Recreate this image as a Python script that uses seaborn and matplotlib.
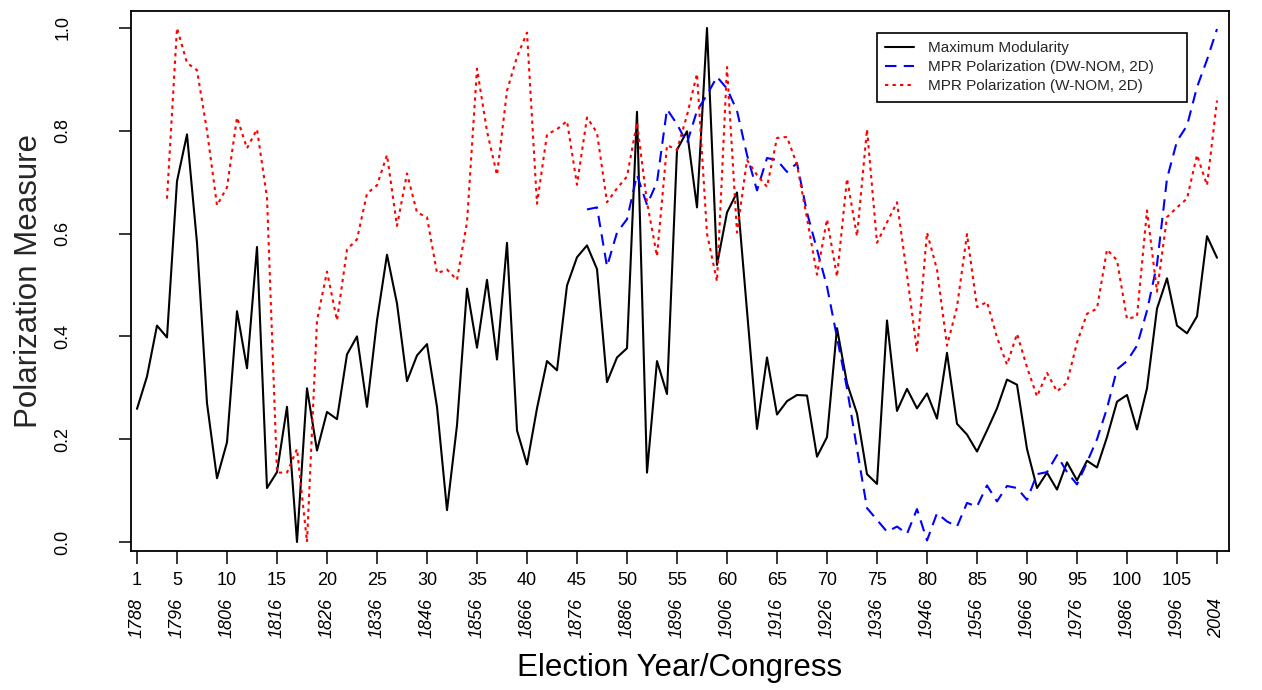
import numpy as np
import pandas as pd
import matplotlib
matplotlib.use("Agg")
import matplotlib.pyplot as plt
import matplotlib.transforms as mtransforms
import seaborn as sns

# ---------------- data ----------------
congress_max_mod = list(range(1, 110))
max_modularity = [
    0.259, 0.322, 0.421, 0.398, 0.702, 0.793, 0.582, 0.270, 0.124, 0.194,
    0.449, 0.338, 0.574, 0.105, 0.136, 0.263, 0.000, 0.299, 0.178, 0.253,
    0.239, 0.365, 0.400, 0.263, 0.431, 0.559, 0.464, 0.313, 0.363, 0.385,
    0.263, 0.062, 0.227, 0.493, 0.378, 0.510, 0.355, 0.582, 0.217, 0.151,
    0.260, 0.352, 0.334, 0.499, 0.554, 0.577, 0.531, 0.311, 0.359, 0.377,
    0.837, 0.135, 0.352, 0.288, 0.763, 0.799, 0.651, 1.000, 0.539, 0.641,
    0.680, 0.450, 0.220, 0.359, 0.248, 0.274, 0.286, 0.285, 0.166, 0.204,
    0.416, 0.309, 0.250, 0.132, 0.113, 0.431, 0.255, 0.298, 0.260, 0.289,
    0.240, 0.368, 0.230, 0.209, 0.176, 0.217, 0.260, 0.316, 0.306, 0.181,
    0.105, 0.135, 0.102, 0.155, 0.120, 0.158, 0.145, 0.204, 0.273, 0.286,
    0.219, 0.299, 0.454, 0.513, 0.421, 0.406, 0.439, 0.595, 0.553,
]

congress_dw = list(range(46, 110))
mpr_dw_nom = [
    0.647, 0.651, 0.536, 0.602, 0.628, 0.714, 0.656, 0.700, 0.842, 0.813,
    0.776, 0.839, 0.870, 0.905, 0.882, 0.839, 0.753, 0.684, 0.747, 0.743,
    0.720, 0.737, 0.641, 0.569, 0.497, 0.398, 0.299, 0.181, 0.066, 0.043,
    0.020, 0.030, 0.016, 0.064, 0.003, 0.056, 0.040, 0.030, 0.076, 0.069,
    0.110, 0.079, 0.109, 0.105, 0.082, 0.132, 0.136, 0.169, 0.136, 0.112,
    0.155, 0.200, 0.260, 0.336, 0.352, 0.382, 0.450, 0.540, 0.707, 0.780,
    0.810, 0.885, 0.938, 0.998,
]

congress_w = list(range(4, 110))
mpr_w_nom = [
    0.668, 1.000, 0.932, 0.918, 0.800, 0.655, 0.690, 0.826, 0.766, 0.803,
    0.670, 0.135, 0.135, 0.181, 0.000, 0.431, 0.526, 0.431, 0.569, 0.589,
    0.678, 0.694, 0.753, 0.615, 0.717, 0.641, 0.632, 0.523, 0.530, 0.510,
    0.622, 0.921, 0.799, 0.714, 0.878, 0.944, 0.991, 0.658, 0.793, 0.803,
    0.819, 0.695, 0.826, 0.796, 0.661, 0.688, 0.711, 0.816, 0.661, 0.556,
    0.772, 0.763, 0.830, 0.911, 0.600, 0.507, 0.924, 0.602, 0.743, 0.714,
    0.691, 0.786, 0.788, 0.734, 0.630, 0.520, 0.628, 0.516, 0.707, 0.595,
    0.803, 0.582, 0.622, 0.661, 0.520, 0.372, 0.602, 0.530, 0.382, 0.457,
    0.599, 0.457, 0.467, 0.398, 0.345, 0.405, 0.340, 0.283, 0.329, 0.293,
    0.310, 0.388, 0.444, 0.454, 0.569, 0.548, 0.434, 0.439, 0.645, 0.487,
    0.632, 0.651, 0.668, 0.753, 0.694, 0.859,
]

series_labels = [
    "Maximum Modularity",
    "MPR Polarization (DW-NOM, 2D)",
    "MPR Polarization (W-NOM, 2D)",
]

x_ticks = [1, 5, 10, 15, 20, 25, 30, 35, 40, 45, 50, 55, 60, 65, 70, 75,
           80, 85, 90, 95, 100, 105, 109]
x_tick_labels = ["1", "5", "10", "15", "20", "25", "30", "35", "40", "45",
                 "50", "55", "60", "65", "70", "75", "80", "85", "90", "95",
                 "100", "105", ""]
year_labels = ["1788", "1796", "1806", "1816", "1826", "1836", "1846",
               "1856", "1866", "1876", "1886", "1896", "1906", "1916",
               "1926", "1936", "1946", "1956", "1966", "1976", "1986",
               "1996", "2004"]
y_ticks = [0.0, 0.2, 0.4, 0.6, 0.8, 1.0]
y_tick_labels = ["0.0", "0.2", "0.4", "0.6", "0.8", "1.0"]

# ---------------- style ----------------
sns.set_theme(style="ticks")
plt.rcParams["font.family"] = ["Liberation Sans", "DejaVu Sans"]

W, H = 1262, 690
fig = plt.figure(figsize=(W / 100, H / 100), dpi=100)
left_px, right_px, top_px, bottom_px = 131, 1229, 11, 551
ax_w = right_px - left_px
ax_h = bottom_px - top_px
ax = fig.add_axes([left_px / W, 1 - bottom_px / H, ax_w / W, ax_h / H])

df_mm = pd.DataFrame({"congress": congress_max_mod, "value": max_modularity})
df_dw = pd.DataFrame({"congress": congress_dw, "value": mpr_dw_nom})
df_w = pd.DataFrame({"congress": congress_w, "value": mpr_w_nom})

sns.lineplot(data=df_mm, x="congress", y="value", color="black", lw=1.5,
             ax=ax, label=series_labels[0])
l_mm = ax.lines[-1]
sns.lineplot(data=df_dw, x="congress", y="value", color="#0000FF", lw=1.5,
             ax=ax, label=series_labels[1])
l_dw = ax.lines[-1]
l_dw.set_dashes((5.5, 3.5))
sns.lineplot(data=df_w, x="congress", y="value", color="#FF0000", lw=1.5,
             ax=ax, label=series_labels[2])
l_w = ax.lines[-1]
l_w.set_dashes((1.6, 2.0))

ax.set_xlim(0.4, 110.2)
ax.set_ylim(-(551 - 542) / 514, 1 + (28 - 11) / 514)

for s in ax.spines.values():
    s.set_visible(True)
    s.set_color("black")
    s.set_linewidth(1.3)

ax.set_xticks(x_ticks)
ax.set_xticklabels(x_tick_labels, fontsize=13)
ax.set_yticks(y_ticks)
ax.set_yticklabels(y_tick_labels, fontsize=13, rotation=90, va="center")
ax.tick_params(axis="both", direction="out", length=9, width=1.1,
               color="black", labelcolor="black")
ax.tick_params(axis="x", pad=6)
ax.tick_params(axis="y", pad=34)

# year labels below the congress numbers
trans = mtransforms.blended_transform_factory(ax.transData, fig.transFigure)
for xc, yr in zip(x_ticks, year_labels):
    ax.text(xc, 1 - 598 / H, yr, transform=trans, rotation=90,
            style="italic", fontsize=13, ha="center", va="top",
            color="black")

ax.set_xlabel("")
ax.set_ylabel("Polarization Measure", fontsize=22.5)
ax.yaxis.set_label_coords((44 - left_px) / ax_w, 0.5)
fig.text((left_px + right_px) / 2 / W, 1 - 668 / H, "Election Year/Congress",
         fontsize=22.5, ha="center", va="center", color="black")

leg_top = (bottom_px - 33) / ax_h
leg = ax.legend(handles=[l_mm, l_dw, l_w], labels=series_labels,
                loc="upper left", mode="expand",
                bbox_to_anchor=((877 - left_px) / ax_w, leg_top - 0.1,
                                (1187 - 877) / ax_w, 0.1),
                borderaxespad=0, fontsize=11, frameon=True, fancybox=False,
                framealpha=1, edgecolor="black", handlelength=1.85,
                handletextpad=0.95, labelspacing=0.32, borderpad=0.55)
leg.get_frame().set_linewidth(1.2)

fig.savefig("out.png", dpi=100)
